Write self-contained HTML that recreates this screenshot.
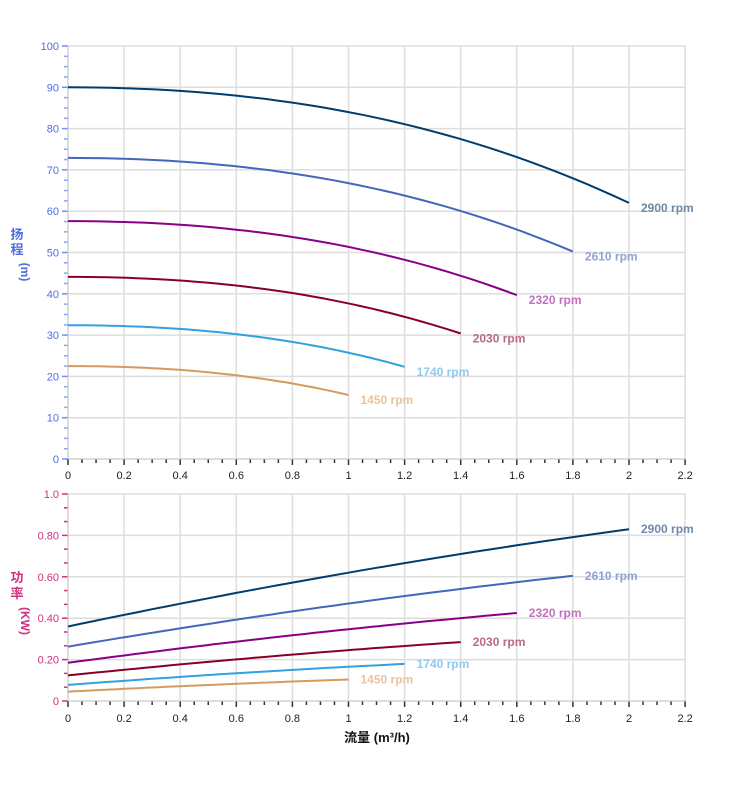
<!DOCTYPE html>
<html><head><meta charset="utf-8"><style>
html,body{margin:0;padding:0;background:#fff;width:752px;height:797px;overflow:hidden}
svg text{font-family:"Liberation Sans","Noto Sans CJK SC",sans-serif}
</style></head><body>
<svg id="s" width="752" height="797" xmlns="http://www.w3.org/2000/svg"></svg>
<script>
const s=document.getElementById('s');let h='';
const X=q=>68+q*280.5;
const Y1=v=>459-v*4.13, Y2=v=>701-v*207;
for(let i=0;i<=11;i++){const x=X(i*0.2);h+=`<line x1="${x}" y1="46" x2="${x}" y2="459" stroke="#ddd" stroke-width="1.5"/><line x1="${x}" y1="494" x2="${x}" y2="701" stroke="#ddd" stroke-width="1.5"/>`;
 const lab=i==0?'0':(i%5==0?(i/5)+'':(i*0.2).toFixed(1));
 h+=`<text x="${x}" y="479" font-size="11" text-anchor="middle" fill="#222">${lab}</text><text x="${x}" y="722" font-size="11" text-anchor="middle" fill="#222">${lab}</text>`;}
for(let v=0;v<=100;v+=10){const y=Y1(v);h+=`<line x1="68" y1="${y}" x2="686" y2="${y}" stroke="#ddd" stroke-width="1.5"/><line x1="62" y1="${y}" x2="68" y2="${y}" stroke="#6f8ff0" stroke-width="1.5"/><text x="59" y="${y+4}" font-size="11" text-anchor="end" fill="#4d6fe0">${v}</text>`;}
for(let v=2.5;v<100;v+=2.5){if(v%10)h+=`<line x1="64" y1="${Y1(v)}" x2="68" y2="${Y1(v)}" stroke="#8aa4f0" stroke-width="1.5"/>`;}
const pl=['0','0.20','0.40','0.60','0.80','1.0'];
for(let i=0;i<=5;i++){const y=Y2(i*0.2);h+=`<line x1="68" y1="${y}" x2="686" y2="${y}" stroke="#ddd" stroke-width="1.5"/><line x1="62" y1="${y}" x2="68" y2="${y}" stroke="#d0307f" stroke-width="1.5"/><text x="59" y="${y+4}" font-size="11" text-anchor="end" fill="#d0307f">${pl[i]}</text>`;
 if(i<5)for(let k=1;k<3;k++){const yy=Y2(i*0.2+k*0.0667);h+=`<line x1="64" y1="${yy}" x2="68" y2="${yy}" stroke="#d0307f" stroke-width="1.5"/>`;}}
for(let k=0;k<=44;k++){const x=X(k*0.05);const L=k%4?4:6;h+=`<line x1="${x}" y1="459" x2="${x}" y2="${459+L}" stroke="#333" stroke-width="1.5"/><line x1="${x}" y1="701" x2="${x}" y2="${701+L}" stroke="#333" stroke-width="1.5"/>`;}
h+=`<line x1="68" y1="46" x2="68" y2="459" stroke="#ccc"/><line x1="68" y1="494" x2="68" y2="701" stroke="#ccc"/>`;
h+=`<line x1="68" y1="459" x2="686" y2="459" stroke="#ccc"/><line x1="68" y1="701" x2="686" y2="701" stroke="#ccc"/>`;
const cs=[[2900,'#003d6e','#6f88a8'],[2610,'#4466bb','#8fa2d4'],[2320,'#880088','#c070c0'],[2030,'#880028','#b86a80'],[1740,'#33a0e0','#8ccbef'],[1450,'#d49a5e','#eac39c']];
for(const [n,c,lc] of cs){const r=n/2900,qe=2*r;let p1='',p2='';
 for(let i=0;i<=40;i++){const q=qe*i/40,u=q/r;const H=r*r*(90-5*u*u-u*u*u),P=r*r*r*(0.36+0.285*u-0.025*u*u);p1+=`${X(q).toFixed(1)},${Y1(H).toFixed(1)} `;p2+=`${X(q).toFixed(1)},${Y2(P).toFixed(1)} `;}
 h+=`<polyline points="${p1}" fill="none" stroke="${c}" stroke-width="2"/><polyline points="${p2}" fill="none" stroke="${c}" stroke-width="2"/>`;
 const He=r*r*62,Pe=r*r*r*0.83;
 h+=`<text x="${X(qe)+12}" y="${Y1(He)+9}" font-size="12" font-weight="bold" fill="${lc}">${n} rpm</text><text x="${X(qe)+12}" y="${Y2(Pe)+4}" font-size="12" font-weight="bold" fill="${lc}">${n} rpm</text>`;}
h+=`<text x="17" y="239" font-size="13" font-weight="bold" fill="#4d6fe0" text-anchor="middle">扬</text><text x="17" y="254" font-size="13" font-weight="bold" fill="#4d6fe0" text-anchor="middle">程</text>`;
h+=`<text transform="translate(21,272) rotate(90)" font-size="12" font-weight="bold" fill="#4d6fe0" text-anchor="middle">(m)</text>`;
h+=`<text x="17" y="582" font-size="13" font-weight="bold" fill="#d0307f" text-anchor="middle">功</text><text x="17" y="598" font-size="13" font-weight="bold" fill="#d0307f" text-anchor="middle">率</text>`;
h+=`<text transform="translate(21,621) rotate(90)" font-size="12" font-weight="bold" fill="#d0307f" text-anchor="middle">(KW)</text>`;
h+=`<text x="377" y="742" font-size="13" font-weight="bold" fill="#111" text-anchor="middle">流量 (m³/h)</text>`;
s.innerHTML=h;
</script>
</body></html>
